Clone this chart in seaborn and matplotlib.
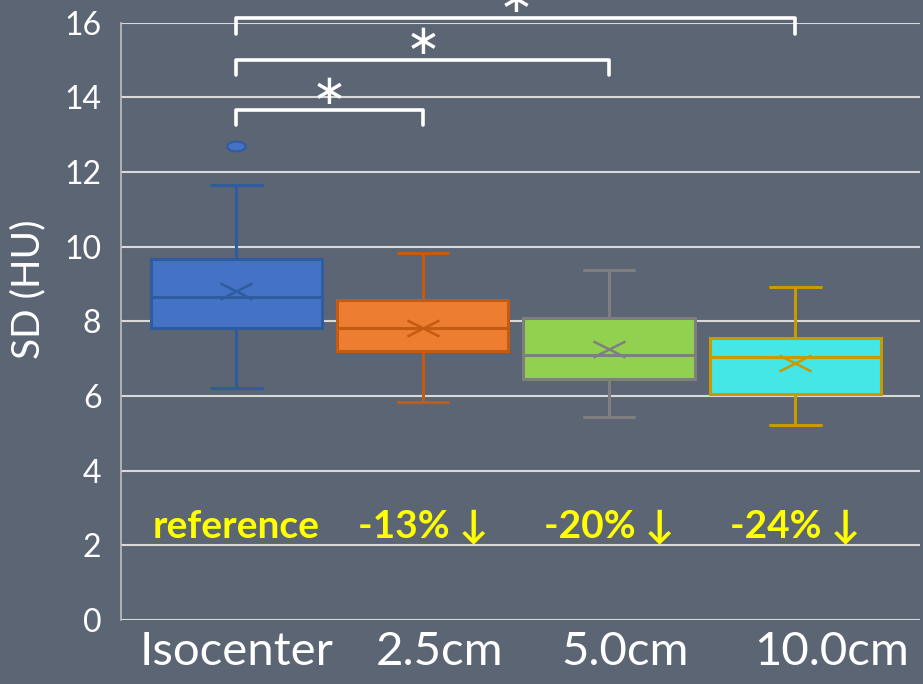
import numpy as np
import pandas as pd
import matplotlib.pyplot as plt
import seaborn as sns
from matplotlib.markers import MarkerStyle
from matplotlib.transforms import Affine2D, ScaledTranslation

# -------------------------------
# data
# -------------------------------
categories = ["Isocenter", "2.5cm", "5.0cm", "10.0cm"]
whisker_low = [6.22, 5.84, 5.44, 5.23]
q1 = [7.83, 7.21, 6.46, 6.06]
median = [8.66, 7.83, 7.10, 7.05]
q3 = [9.68, 8.58, 8.09, 7.56]
whisker_high = [11.66, 9.84, 9.38, 8.93]
means = [8.82, 7.83, 7.26, 6.89]
outlier_cat = ["Isocenter"]
outlier_val = [12.69]
change_labels = ["reference", "-13% \u2193", "-20% \u2193", "-24% \u2193"]
sig_pairs = [(0, 1), (0, 2), (0, 3)]

fills = ["#4472C4", "#ED7D31", "#92D050", "#45E6E6"]
edges = ["#2F5BA0", "#C55A11", "#7F7F7F", "#C99A00"]
bg = "#5C6574"

# five summary values per group -> boxplot quartiles/whiskers land exactly on them
df = pd.DataFrame({
    "position": np.repeat(categories, 5),
    "sd": np.column_stack([whisker_low, q1, median, q3, whisker_high]).ravel(),
})

sns.set_style("white")
plt.rcParams["font.family"] = ["Lato", "DejaVu Sans"]

fig = plt.figure(figsize=(9.23, 6.84), dpi=100, facecolor=bg)
ax = fig.add_axes([0.131, 0.0936, 0.866, 0.873])
ax.set_facecolor(bg)

for cat, fc, ec in zip(categories, fills, edges):
    sns.boxplot(data=df[df["position"] == cat], x="position", y="sd", order=categories,
                color=fc, linecolor=ec, saturation=1, width=0.92, linewidth=2.2,
                whis=(0, 100), showfliers=False, capwidths=0.27, ax=ax)

# means as flattened x marks
xmark = MarkerStyle("x", transform=Affine2D().scale(1.9, 1.0))
sns.pointplot(x=categories, y=means, hue=categories, order=categories, hue_order=categories,
              palette=edges, marker=xmark, markersize=12, markeredgewidth=1.8,
              linestyle="none", errorbar=None, legend=False, ax=ax)

# outlier
omark = MarkerStyle("o", transform=Affine2D().scale(1.9, 1.0))
sns.stripplot(x=outlier_cat, y=outlier_val, order=categories, jitter=False, color=fills[0],
              marker=omark, size=7, edgecolor=edges[0], linewidth=1.5, ax=ax)

ax.set_xlim(-0.62, 3.67)
ax.set_ylim(0, 16)
ax.set_yticks(range(0, 17, 2))
ax.yaxis.grid(True, color="#D9D9D9", linewidth=1.5)
ax.xaxis.grid(False)
ax.set_axisbelow(True)
for s in ["top", "right", "bottom"]:
    ax.spines[s].set_visible(False)
ax.spines["left"].set_color("#BFBFBF")
ax.spines["left"].set_linewidth(1.2)
ax.tick_params(axis="both", length=0, colors="white")
ax.tick_params(axis="x", labelsize=34, pad=8)
ax.tick_params(axis="y", labelsize=23, pad=14)
ax.set_xlabel("")
ax.set_ylabel("SD (HU)", color="white", fontsize=28)
ax.yaxis.set_label_coords(-0.093, 0.554)

# category labels sit a little right of the boxes in the original slide
label_shift = [0, 17, 16, 36]
for lab, dx in zip(ax.get_xticklabels(), label_shift):
    lab.set_transform(lab.get_transform() + ScaledTranslation(dx / 100, 0, fig.dpi_scale_trans))

# yellow change labels
for i, lab in enumerate(change_labels):
    ax.text(i, 2.5, lab, color="#FFFF00", fontsize=28, fontweight="bold",
            ha="center", va="center")

# significance brackets
bracket_tops = [13.67, 15.01, 16.13]
for (a, b), top in zip(sig_pairs, bracket_tops):
    ax.plot([a, a, b, b], [top - 0.42, top, top, top - 0.42], color="white", lw=2.6,
            clip_on=False, solid_joinstyle="round")
    ax.text((a + b) / 2, top + 0.48, "\u2217", color="white", fontsize=30,
            family="DejaVu Sans", ha="center", va="center", clip_on=False)

fig.savefig("out.png", dpi=100, facecolor=bg)
